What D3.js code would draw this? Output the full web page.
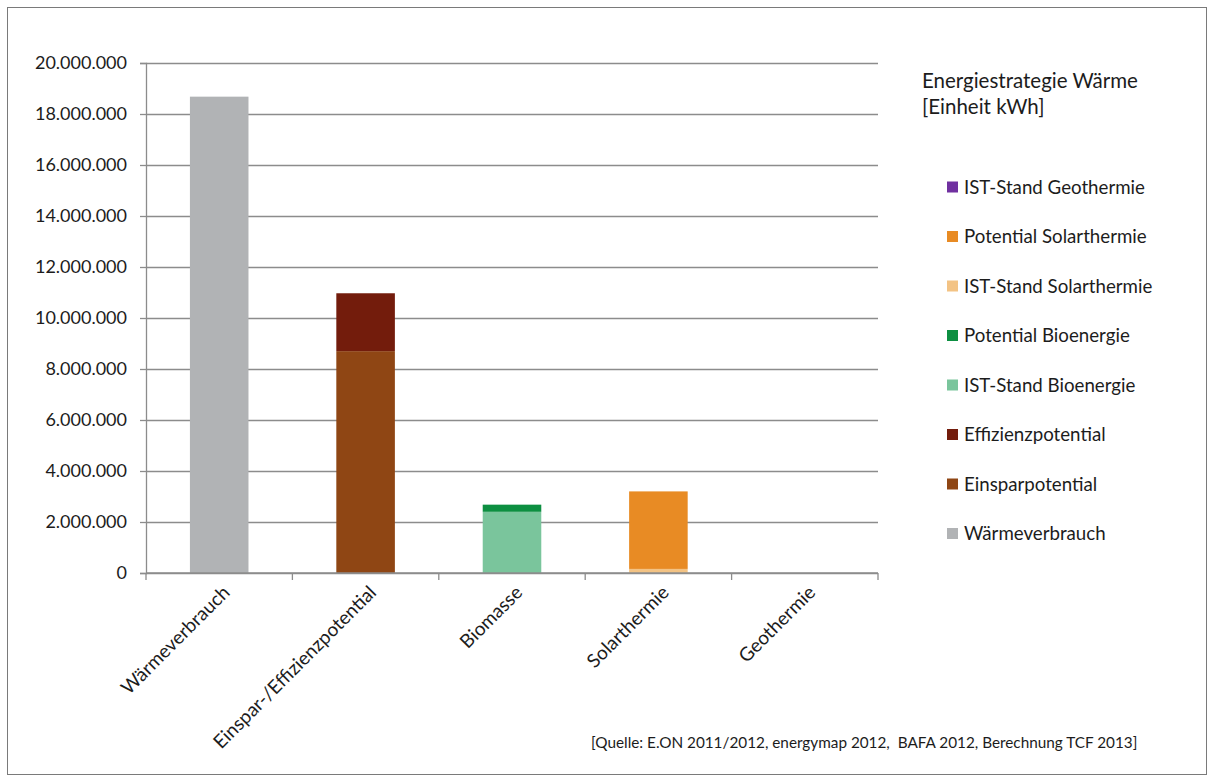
<!DOCTYPE html>
<html>
    <head>
        <meta charset="utf-8">
        <script src="https://d3js.org/d3.v7.min.js"></script>
        <style>
            body { margin: 0; background: #fff; }
            text { font-family: Lato, "Open Sans", sans-serif; fill: #1c1c1c; }
        </style>
    </head>
    <body>
        <svg id="svg" width="1214" height="782"></svg>
        <script>
            // Kategorien und Reihen (Werte in kWh)
            var categories = ["Wärmeverbrauch", "Einspar-/Effizienzpotential", "Biomasse", "Solarthermie", "Geothermie"];
            var seriesNames = ["Wärmeverbrauch", "Einsparpotential", "Effizienzpotential", "IST-Stand Bioenergie",
                               "Potential Bioenergie", "IST-Stand Solarthermie", "Potential Solarthermie", "IST-Stand Geothermie"];
            var seriesColors = ["#b1b3b5", "#8f4614", "#731c0c", "#7ac59c", "#0d8f41", "#f3c384", "#e88b24", "#7030a0"];

            var waermeverbrauch    = [18680000, 0, 0, 0, 0];
            var einsparpotential   = [0, 8700000, 0, 0, 0];
            var effizienzpotential = [0, 2270000, 0, 0, 0];
            var istBioenergie      = [0, 0, 2400000, 0, 0];
            var potBioenergie      = [0, 0, 280000, 0, 0];
            var istSolarthermie    = [0, 0, 0, 160000, 0];
            var potSolarthermie    = [0, 0, 0, 3040000, 0];
            var istGeothermie      = [0, 0, 0, 0, 0];

            var yTicks = [0, 2000000, 4000000, 6000000, 8000000, 10000000, 12000000, 14000000, 16000000, 18000000, 20000000];
            var legendTitle = ["Energiestrategie Wärme", "[Einheit kWh]"];
            var sourceNote = "[Quelle: E.ON 2011/2012, energymap 2012,  BAFA 2012, Berechnung TCF 2013]";

            var allSeries = [waermeverbrauch, einsparpotential, effizienzpotential, istBioenergie,
                             potBioenergie, istSolarthermie, potSolarthermie, istGeothermie];

            var table = categories.map(function(c, i){
                var row = {category: c};
                seriesNames.forEach(function(s, j){ row[s] = allSeries[j][i]; });
                return row;
            });

            var svg = d3.select("svg");
            var width = +svg.attr("width");
            var height = +svg.attr("height");

            // Rahmen
            svg.append("rect").attr("x", 7.5).attr("y", 7.5)
               .attr("width", width - 15).attr("height", height - 15)
               .attr("fill", "none").attr("stroke", "#7a7a7a").attr("stroke-width", 1);

            var plotL = 146, plotR = 878, plotT = 63, plotB = 573;

            var x = d3.scaleBand().domain(categories).range([plotL, plotR])
                      .paddingInner(0.6).paddingOuter(0.3);
            var y = d3.scaleLinear().domain([0, 20000000]).range([plotB, plotT]);

            var de = d3.formatLocale({decimal: ",", thousands: ".", grouping: [3], currency: ["", " €"]});
            var fmt = de.format(",.0f");

            // Gitternetz
            svg.append("g").attr("transform", "translate(" + plotL + ",0)")
               .call(d3.axisLeft(y).tickValues(yTicks).tickSize(-(plotR - plotL)).tickFormat(""))
               .call(function(g){
                   g.select(".domain").remove();
                   g.selectAll("line").attr("stroke", "#8c8c8c").attr("stroke-width", 1.3);
               });

            // Balken
            var stack = d3.stack().keys(seriesNames)(table);
            svg.append("g").selectAll("g").data(stack).enter().append("g")
               .attr("fill", function(d, i){ return seriesColors[i]; })
               .selectAll("rect").data(function(d){ return d; }).enter().append("rect")
               .attr("x", function(d){ return x(d.data.category); })
               .attr("width", x.bandwidth())
               .attr("y", function(d){ return y(d[1]); })
               .attr("height", function(d){ return y(d[0]) - y(d[1]); });

            // Y-Achse
            svg.append("g").attr("transform", "translate(" + plotL + ",0)")
               .call(d3.axisLeft(y).tickValues(yTicks).tickSize(6).tickPadding(13).tickFormat(fmt))
               .call(function(g){
                   g.select(".domain").attr("stroke", "#8c8c8c").attr("stroke-width", 1.3);
                   g.selectAll("line").attr("stroke", "#8c8c8c").attr("stroke-width", 1.3);
                   g.selectAll("text").attr("font-size", "18px").attr("fill", "#1c1c1c")
                    .style("font-family", "Lato, sans-serif");
               });

            // X-Achse
            var xAxis = svg.append("g");
            xAxis.append("line").attr("x1", plotL).attr("x2", plotR).attr("y1", plotB).attr("y2", plotB)
                 .attr("stroke", "#8c8c8c").attr("stroke-width", 1.3);
            xAxis.selectAll(".xt").data(d3.range(categories.length + 1)).enter().append("line")
                 .attr("x1", function(i){ return plotL + i * x.step(); })
                 .attr("x2", function(i){ return plotL + i * x.step(); })
                 .attr("y1", plotB).attr("y2", plotB + 7)
                 .attr("stroke", "#8c8c8c").attr("stroke-width", 1.3);
            xAxis.selectAll(".xl").data(categories).enter().append("text")
                 .attr("transform", function(d){
                     var cx = x(d) + x.bandwidth() / 2 + 7;
                     return "translate(" + cx + "," + (plotB + 16) + ") rotate(-45)";
                 })
                 .attr("text-anchor", "end").attr("dy", "0.35em")
                 .attr("font-size", "19px")
                 .text(function(d){ return d; });

            // Legende
            svg.append("text").attr("x", 922).attr("y", 88).attr("font-size", "20.5px").text(legendTitle[0]);
            svg.append("text").attr("x", 922).attr("y", 114).attr("font-size", "20.5px").text(legendTitle[1]);

            var legendOrder = seriesNames.slice().reverse();
            var legend = svg.append("g").selectAll("g").data(legendOrder).enter().append("g")
               .attr("transform", function(d, i){ return "translate(947," + (187 + i * 49.5) + ")"; });
            legend.append("rect").attr("x", 0).attr("y", -5.5).attr("width", 11).attr("height", 11)
               .attr("fill", function(d){ return seriesColors[seriesNames.indexOf(d)]; });
            legend.append("text").attr("x", 17).attr("dy", "0.35em").attr("font-size", "18.7px")
               .text(function(d){ return d; });

            // Quelle
            svg.append("text").attr("x", 591).attr("y", 748).attr("font-size", "15.3px")
               .style("white-space", "pre").text(sourceNote);
        </script>
    </body>
</html>
